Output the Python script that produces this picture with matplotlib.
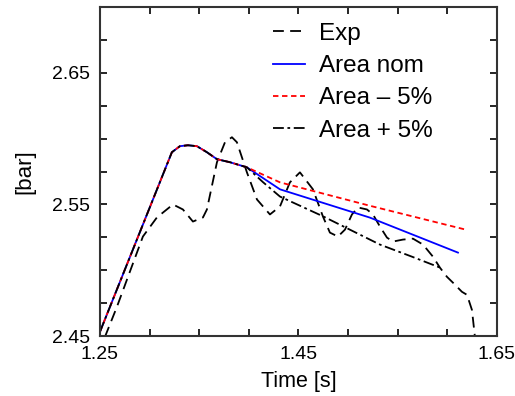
import numpy as np
import matplotlib
matplotlib.use("Agg")
import matplotlib.pyplot as plt

plt.rcParams['font.family'] = ['Liberation Sans', 'DejaVu Sans']

# experiment
t_exp = [1.255, 1.2671, 1.2802, 1.2933, 1.3074, 1.3236, 1.3336, 1.3437, 1.3538,
         1.3578, 1.3679, 1.376, 1.383, 1.388, 1.3981, 1.4082, 1.4213, 1.4314,
         1.4414, 1.4515, 1.4646, 1.4747, 1.4817, 1.4898, 1.4969, 1.5039, 1.51,
         1.519, 1.5251, 1.5321, 1.5392, 1.5452, 1.5553, 1.5654, 1.5755, 1.5855,
         1.5926, 1.5996, 1.6057, 1.6147, 1.6198, 1.6248, 1.6278]
p_exp = [2.4492, 2.4721, 2.4989, 2.5256, 2.5401, 2.550, 2.5462, 2.537, 2.5401,
         2.5462, 2.5821, 2.5973, 2.6011, 2.5973, 2.5744, 2.5538, 2.5424, 2.5485,
         2.5668, 2.5744, 2.5615, 2.5408, 2.5286, 2.5256, 2.5309, 2.5424, 2.5477,
         2.5462, 2.5424, 2.5332, 2.5248, 2.5218, 2.5233, 2.524, 2.5195, 2.5103,
         2.5019, 2.495, 2.4905, 2.4836, 2.4813, 2.4698, 2.4492]

# common part of the three simulations
t_sim = [1.25, 1.3225, 1.3306, 1.3387, 1.3477, 1.3578, 1.3679, 1.381, 1.3981]
p_sim = [2.4531, 2.5897, 2.5943, 2.595, 2.5943, 2.5897, 2.5844, 2.5821, 2.5782]

t_nom = t_sim + [1.4314, 1.522, 1.6107]
p_nom = p_sim + [2.5615, 2.540, 2.5134]
t_m5 = t_sim + [1.4314, 1.522, 1.6178]
p_m5 = p_sim + [2.5668, 2.549, 2.531]
t_p5 = t_sim + [1.4142, 1.4314, 1.4747, 1.5321, 1.5654, 1.5926]
p_p5 = p_sim + [2.5670, 2.556, 2.541, 2.5195, 2.510, 2.502]

fig = plt.figure(figsize=(5.15, 3.96), dpi=100)
ax = fig.add_axes([0.194, 0.1515, 0.771, 0.8305])

ax.plot(t_exp, p_exp, color='black', ls=(0, (6, 3.5)), lw=1.3, label='Exp')
ax.plot(t_nom, p_nom, color='blue', lw=1.3, label='Area nom')
ax.plot(t_m5, p_m5, color='red', ls=(0, (3, 2)), lw=1.3, label='Area \u2013 5%')
ax.plot(t_p5, p_p5, color='black', ls=(0, (6, 2, 1.5, 2)), lw=1.3, label='Area + 5%')

ax.set_xlim(1.25, 1.65)
ax.set_ylim(2.45, 2.70)
ax.set_xticks([1.25, 1.45, 1.65])
ax.set_xticklabels(['1.25', '1.45', '1.65'])
ax.set_xticks(np.arange(1.25, 1.651, 0.05), minor=True)
ax.set_yticks([2.45, 2.55, 2.65])
ax.set_yticklabels(['2.45', '2.55', '2.65'])
ax.set_yticks(np.arange(2.45, 2.701, 0.025), minor=True)
ax.tick_params(which='both', direction='in', top=True, right=True, labelsize=14, width=1.2)
ax.tick_params(which='major', length=5, pad=7)
ax.tick_params(which='minor', length=5)
for s in ax.spines.values():
    s.set_linewidth(1.5)
    s.set_color('#333333')

ax.set_xlabel('Time [s]', fontsize=15.5, labelpad=6)
ax.set_ylabel('[bar]', fontsize=16, labelpad=12)

ax.legend(loc='upper left', frameon=False, fontsize=17.5, handlelength=1.3,
          handletextpad=0.6, labelspacing=0.42, borderpad=0, borderaxespad=0,
          bbox_to_anchor=(0.530, 0.942), bbox_transform=fig.transFigure)

fig.savefig('out.png', dpi=100)
